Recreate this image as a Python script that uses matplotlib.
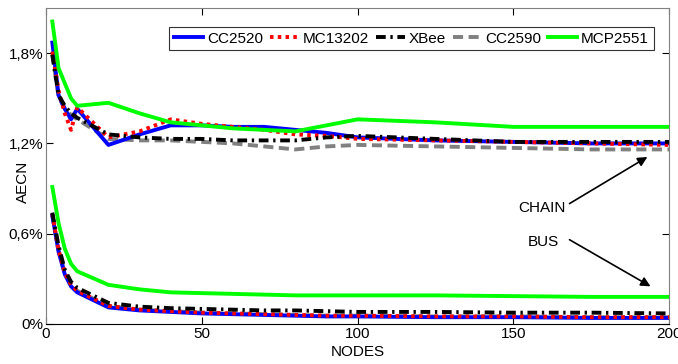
import numpy as np
import matplotlib
matplotlib.use("Agg")
import matplotlib.pyplot as plt
from matplotlib.ticker import FuncFormatter

plt.rcParams['font.family'] = ['Liberation Sans', 'DejaVu Sans']

# node counts
nodes = [2, 4, 6, 8, 10, 20, 30, 40, 50, 60, 70, 80, 90, 100, 125, 150, 175, 200]

# AECN (%) - chain topology
chain_cc2520 = [1.87, 1.52, 1.43, 1.36, 1.43, 1.19, 1.26, 1.32, 1.32, 1.31, 1.31, 1.29, 1.27, 1.24, 1.22, 1.21, 1.20, 1.20]
chain_mc13202 = [1.81, 1.55, 1.40, 1.29, 1.44, 1.24, 1.28, 1.36, 1.33, 1.31, 1.29, 1.26, 1.25, 1.23, 1.22, 1.21, 1.20, 1.19]
chain_xbee = [1.79, 1.52, 1.45, 1.40, 1.37, 1.26, 1.24, 1.23, 1.23, 1.22, 1.22, 1.22, 1.24, 1.25, 1.23, 1.21, 1.21, 1.21]
chain_cc2590 = [1.79, 1.51, 1.43, 1.39, 1.36, 1.23, 1.22, 1.22, 1.21, 1.20, 1.18, 1.16, 1.18, 1.19, 1.18, 1.17, 1.16, 1.16]
chain_mcp2551 = [2.01, 1.70, 1.60, 1.50, 1.45, 1.47, 1.40, 1.34, 1.32, 1.30, 1.29, 1.28, 1.32, 1.36, 1.34, 1.31, 1.31, 1.31]

# AECN (%) - bus topology
bus_cc2520 = [0.72, 0.48, 0.33, 0.25, 0.21, 0.11, 0.09, 0.08, 0.07, 0.065, 0.06, 0.055, 0.05, 0.05, 0.045, 0.045, 0.04, 0.04]
bus_mc13202 = [0.73, 0.49, 0.34, 0.26, 0.22, 0.12, 0.095, 0.085, 0.075, 0.07, 0.065, 0.06, 0.055, 0.055, 0.05, 0.05, 0.045, 0.045]
bus_xbee = [0.74, 0.52, 0.36, 0.28, 0.24, 0.14, 0.115, 0.105, 0.10, 0.095, 0.09, 0.09, 0.085, 0.08, 0.08, 0.075, 0.075, 0.07]
bus_cc2590 = [0.72, 0.49, 0.34, 0.26, 0.22, 0.12, 0.095, 0.085, 0.075, 0.07, 0.065, 0.06, 0.055, 0.055, 0.05, 0.05, 0.045, 0.045]
bus_mcp2551 = [0.91, 0.67, 0.50, 0.40, 0.35, 0.26, 0.23, 0.21, 0.205, 0.20, 0.195, 0.19, 0.19, 0.19, 0.19, 0.185, 0.18, 0.18]

labels = ["CC2520", "MC13202", "XBee", "CC2590", "MCP2551"]
styles = {
    "CC2520": dict(color="#0000ff", ls="-", zorder=3),
    "MC13202": dict(color="#ff0000", ls=(0, (0.9, 1.1)), zorder=4),
    "XBee": dict(color="black", ls=(0, (2.5, 1.2, 0.6, 1.2)), zorder=5),
    "CC2590": dict(color="#808080", ls=(0, (2.6, 1.4)), zorder=2),
    "MCP2551": dict(color="#00ff00", ls="-", zorder=6),
}
chain = dict(zip(labels, [chain_cc2520, chain_mc13202, chain_xbee, chain_cc2590, chain_mcp2551]))
bus = dict(zip(labels, [bus_cc2520, bus_mc13202, bus_xbee, bus_cc2590, bus_mcp2551]))

fig = plt.figure(figsize=(6.78, 3.64), dpi=100)
ax = fig.add_axes([0.068, 0.110, 0.919, 0.868])

handles = []
for name in labels:
    st = styles[name]
    h, = ax.plot(nodes, chain[name], lw=2.8, label=name, **st)
    ax.plot(nodes, bus[name], lw=2.8, **st)
    handles.append(h)

ax.set_xlim(0, 200)
ax.set_ylim(0, 2.1)
ax.set_xticks([0, 50, 100, 150, 200])
ax.set_yticks([0, 0.6, 1.2, 1.8])
ax.yaxis.set_major_formatter(FuncFormatter(
    lambda v, p: "0%" if v == 0 else f"{v:.1f}%".replace(".", ",")))
ax.tick_params(direction="in", top=True, right=True, labelsize=11, length=5, pad=2)
for side in ["top", "right", "left"]:
    ax.spines[side].set_color("#808080")
ax.set_xlabel("NODES", fontsize=11, labelpad=3)
ax.set_ylabel("AECN", fontsize=11)
ax.yaxis.set_label_coords(-0.026, 0.45)

leg = ax.legend(handles=handles, ncol=5, loc="upper right", bbox_to_anchor=(0.975, 0.94),
                fontsize=11, frameon=True, fancybox=False, handlelength=1.9,
                columnspacing=0.45, handletextpad=0.25, borderpad=0.3, borderaxespad=0)
leg.get_frame().set_edgecolor("black")
leg.get_frame().set_linewidth(0.8)

ax.text(159, 0.77, "CHAIN", fontsize=11, ha="center", va="center")
ax.text(159.5, 0.545, "BUS", fontsize=11, ha="center", va="center")
arrow = dict(arrowstyle="-|>", color="black", lw=1.2, mutation_scale=14, shrinkA=0, shrinkB=0)
ax.annotate("", xy=(193, 1.11), xytext=(168, 0.80), arrowprops=arrow)
ax.annotate("", xy=(194, 0.25), xytext=(168, 0.56), arrowprops=arrow)

fig.savefig("out.png", dpi=100)
